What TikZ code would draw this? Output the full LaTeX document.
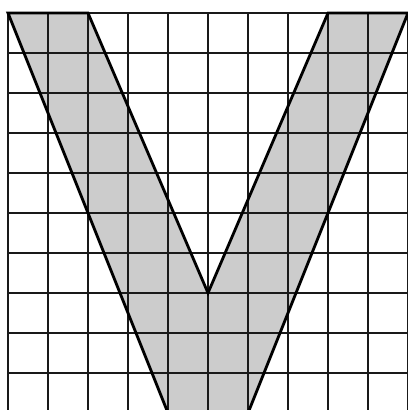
\documentclass[tikz,border=0pt]{standalone}
\usepackage{tikz}
\usetikzlibrary{calc}

\begin{document}
\begin{tikzpicture}[
  x=1cm, y=1cm,
  gridline/.style={line width=0.9pt, black!90},
  vshape/.style={draw=black, line width=2pt, line join=miter}
]
  \useasboundingbox (-0.2,0.075) rectangle (9.975,10.325);

  % letter V
  \fill[black!20] (0,10) -- (2,10) -- (5,3) -- (8,10) -- (10,10) -- (6,0) -- (4,0) -- cycle;

  % grid
  \draw[gridline] (0,0) grid (10,10);

  \draw[vshape] (0,10) -- (2,10) -- (5,3) -- (8,10) -- (10,10) -- (6,0) -- (4,0) -- cycle;
\end{tikzpicture}
\end{document}
